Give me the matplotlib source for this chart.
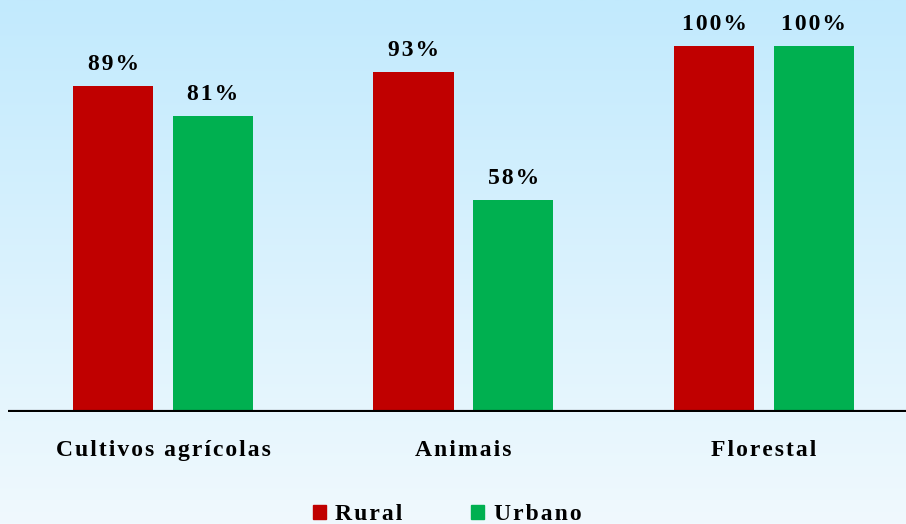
import matplotlib.pyplot as plt
import numpy as np
from matplotlib.patches import Patch

categories = ["Cultivos agrícolas", "Animais", "Florestal"]
rural = [89, 93, 100]
urbano = [81, 58, 100]
series_names = ["Rural", "Urbano"]

red = "#c00000"
green = "#00b050"

plt.rcParams['font.family'] = ['Liberation Serif', 'DejaVu Serif']
plt.rcParams['font.weight'] = 'bold'


def spaced(s):
    # the original text is drawn with a bit of letter spacing
    return '\u200a'.join(s)


fig = plt.figure(figsize=(9.06, 5.24), dpi=100)

# background gradient, light blue at the top fading down
bg = fig.add_axes([0, 0, 1, 1], zorder=-1)
top = np.array([194, 234, 253]) / 255
bottom = np.array([240, 249, 254]) / 255
t = np.linspace(0, 1, 256)[:, None]
grad = top * (1 - t) + bottom * t
bg.imshow(grad[:, None, :], aspect='auto', extent=[0, 1, 0, 1])
bg.axis('off')

ax = fig.add_axes([8 / 906, 112 / 524, 898 / 906, 412 / 524])
ax.patch.set_alpha(0)

x = np.arange(len(categories))
w = 0.267
off = 0.166
b1 = ax.bar(x - off, rural, w, color=red, zorder=2)
b2 = ax.bar(x + off, urbano, w, color=green, zorder=2)

for bars, vals in [(b1, rural), (b2, urbano)]:
    for rect, v in zip(bars, vals):
        ax.annotate(spaced(f"{v}%"), (rect.get_x() + rect.get_width() / 2, v),
                    xytext=(0, 8), textcoords='offset points',
                    ha='center', va='bottom', fontsize=17, fontweight='bold')

ax.axhline(0, color='black', lw=3, zorder=3)
ax.set_xlim(-0.516, 2.473)
ax.set_ylim(0, 112.6)
for s in ax.spines.values():
    s.set_visible(False)
ax.set_yticks([])
ax.set_xticks(x)
ax.set_xticklabels([spaced(c) for c in categories], fontsize=17, fontweight='bold')
ax.tick_params(axis='x', length=0, pad=20)

handles = [Patch(color=red, label=spaced(series_names[0])),
           Patch(color=green, label=spaced(series_names[1]))]
fig.legend(handles=handles, loc='center', bbox_to_anchor=(447 / 906, 9 / 524),
           ncol=2, frameon=False, handlelength=0.55, handleheight=0.55,
           handletextpad=0.4, columnspacing=2.9, prop={'weight': 'bold', 'size': 17})

fig.savefig("out.png", dpi=100)
